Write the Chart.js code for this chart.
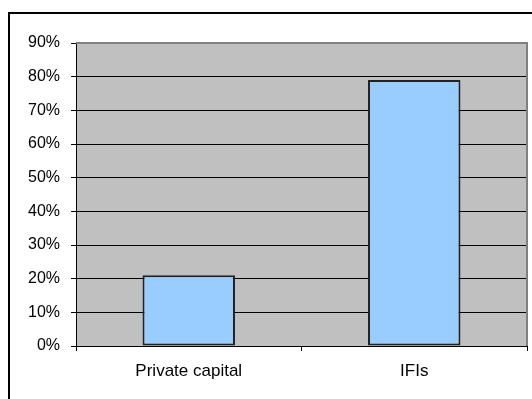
<!DOCTYPE html>
<html>
<head>
<meta charset="utf-8">
<script src="https://cdn.jsdelivr.net/npm/chart.js@4/dist/chart.umd.min.js"></script>
<style>
  html, body { margin: 0; padding: 0; background: #fff; }
  canvas { display: block; }
</style>
</head>
<body>
<canvas id="c" width="532" height="399"></canvas>
<script>
// Share of financing by source (percent)
const categories = ['Private capital', 'IFIs'];
const shares = [21, 79];
const yTicks = [0, 10, 20, 30, 40, 50, 60, 70, 80, 90];

const FONT = "'Liberation Sans', Arial, sans-serif";

// Grey plot background and outer chart frame
const frame = {
  id: 'frame',
  beforeDraw(chart) {
    const { ctx, chartArea: a } = chart;
    ctx.save();
    ctx.fillStyle = '#fff';
    ctx.fillRect(0, 0, chart.width, chart.height);
    ctx.fillStyle = '#C0C0C0';
    ctx.fillRect(a.left, a.top, a.right - a.left, a.bottom - a.top);
    ctx.restore();
  },
  afterDraw(chart) {
    const { ctx, chartArea: a } = chart;
    ctx.save();
    // plot area top and right edges
    ctx.strokeStyle = '#808080';
    ctx.lineWidth = 2;
    ctx.beginPath();
    ctx.moveTo(a.left, a.top);
    ctx.lineTo(a.right, a.top);
    ctx.lineTo(a.right, a.bottom);
    ctx.stroke();
    // outer chart border
    ctx.strokeStyle = '#000';
    ctx.lineWidth = 2;
    ctx.strokeRect(9, 13, 600, 600);
    ctx.restore();
  }
};

new Chart(document.getElementById('c'), {
  type: 'bar',
  data: {
    labels: categories,
    datasets: [{
      data: shares,
      backgroundColor: '#99CCFF',
      borderColor: '#222',
      borderWidth: 2,
      borderSkipped: false,
      barPercentage: 0.41,
      categoryPercentage: 1.0
    }]
  },
  options: {
    responsive: false,
    animation: false,
    devicePixelRatio: 1,
    layout: { padding: { left: 0, top: 43, right: 5, bottom: 0 } },
    plugins: { legend: { display: false }, tooltip: { enabled: false } },
    scales: {
      x: {
        afterFit(s) { s.height = 53; },
        grid: { offset: true, drawOnChartArea: false, drawTicks: true, tickLength: 5, color: '#000' },
        border: { display: true, color: '#000', width: 1 },
        ticks: { color: '#000', padding: 10, font: { family: FONT, size: 17 } }
      },
      y: {
        min: 0,
        max: 90,
        afterFit(s) { s.width = 76; },
        afterBuildTicks(s) { s.ticks = yTicks.map(v => ({ value: v })); },
        grid: { color: '#000', drawTicks: true, tickLength: 5 },
        border: { display: true, color: '#000', width: 1 },
        ticks: {
          color: '#000',
          padding: 11,
          font: { family: FONT, size: 16 },
          callback: v => v + '%'
        }
      }
    }
  },
  plugins: [frame]
});
</script>
</body>
</html>
